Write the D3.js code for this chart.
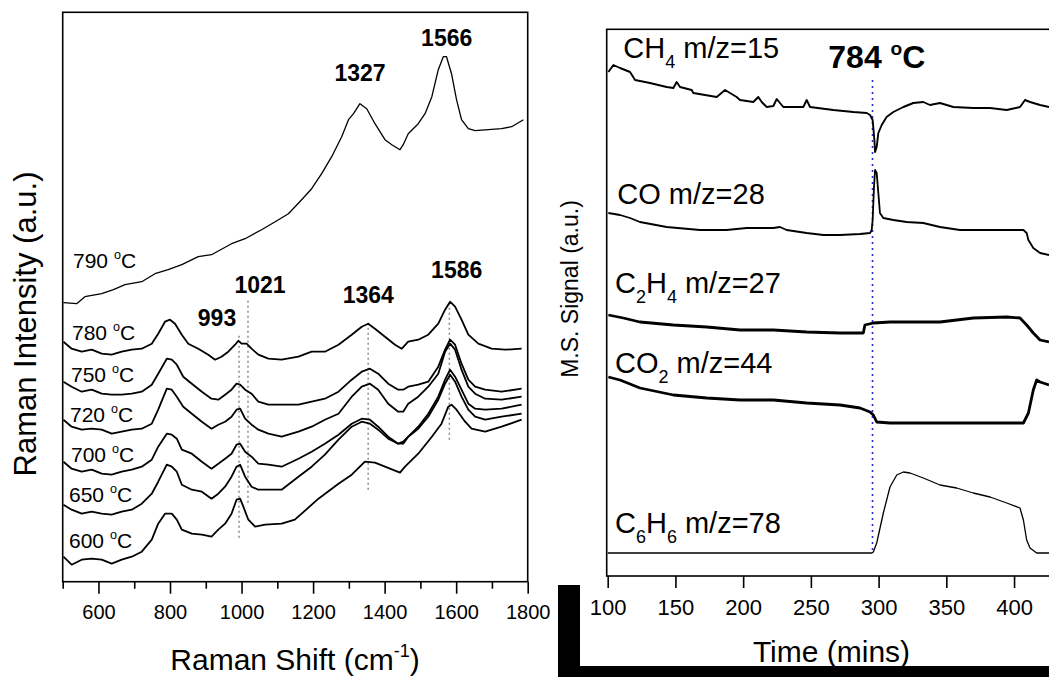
<!DOCTYPE html>
<html><head><meta charset="utf-8">
<script src="https://cdn.jsdelivr.net/npm/d3@7/dist/d3.min.js"></script>
<style>html,body{margin:0;padding:0;background:#fff;overflow:hidden}
text{font-family:"Liberation Sans",Arial,sans-serif;fill:#000}</style>
</head><body><svg id="c" width="1049" height="677"></svg>
<script>
// ---------- Left panel: Raman spectra (x: cm^-1, y: a.u., stacked) ----------
const raman790 = [[502,279],[539,278],[562,285],[609,288],[642,292],[674,297],[721,300],[758,308],[795,312],[833,317],[879,325],[916,327],[972,338],[1010,343],[1056,352],[1094,360],[1131,368],[1168,382],[1196,393],[1224,408],[1252,425],[1280,445],[1299,462],[1313,468],[1331,478],[1350,473],[1373,458],[1401,442],[1420,437],[1443,432],[1452,437],[1466,448],[1494,458],[1513,468],[1532,485],[1550,512],[1564,525],[1573,525],[1587,508],[1601,482],[1615,462],[1634,453],[1653,451],[1690,452],[1727,453],[1755,455],[1774,459],[1788,462]];
const raman780 = [[502,240],[525,233],[553,230],[581,232],[609,228],[637,227],[665,230],[693,232],[721,233],[749,238],[767,248],[786,260],[800,262],[814,258],[833,247],[851,238],[879,233],[907,227],[926,222],[944,225],[963,230],[982,237],[991,241],[1000,238],[1014,238],[1028,233],[1047,227],[1075,223],[1112,222],[1159,225],[1196,230],[1233,230],[1271,237],[1308,247],[1336,255],[1354,258],[1373,253],[1401,245],[1429,237],[1448,233],[1466,240],[1494,242],[1522,247],[1550,258],[1569,272],[1583,280],[1597,275],[1615,262],[1634,247],[1662,238],[1699,233],[1737,232],[1783,233]];
const raman750 = [[502,200],[525,195],[553,190],[581,192],[609,188],[637,187],[665,187],[693,188],[721,190],[749,197],[767,208],[791,223],[805,222],[819,217],[837,205],[861,198],[889,190],[916,183],[935,182],[954,187],[972,192],[986,198],[996,197],[1010,192],[1028,188],[1047,180],[1075,177],[1112,177],[1159,177],[1196,180],[1233,183],[1271,190],[1308,202],[1336,210],[1359,213],[1382,208],[1410,198],[1438,192],[1452,192],[1466,195],[1494,197],[1522,200],[1550,215],[1569,232],[1583,242],[1597,237],[1615,218],[1634,202],[1653,195],[1681,192],[1727,190],[1783,193]];
const raman720 = [[502,162],[525,155],[553,152],[581,153],[609,152],[637,148],[665,150],[693,152],[721,153],[749,158],[767,172],[791,193],[805,192],[819,185],[837,175],[861,168],[889,160],[916,153],[935,157],[954,160],[972,165],[986,172],[996,173],[1010,163],[1028,157],[1047,152],[1075,148],[1112,145],[1159,150],[1196,155],[1233,162],[1271,168],[1308,185],[1336,195],[1359,198],[1382,192],[1410,178],[1438,170],[1452,170],[1466,178],[1494,185],[1522,195],[1550,208],[1569,230],[1583,238],[1597,232],[1615,212],[1634,195],[1653,188],[1681,183],[1727,182],[1783,185]];
const raman700 = [[502,120],[525,113],[553,110],[581,112],[609,108],[637,107],[665,110],[693,112],[721,115],[749,122],[767,135],[791,148],[805,147],[819,143],[833,132],[861,128],[889,120],[916,113],[935,118],[954,123],[972,128],[986,137],[996,138],[1010,130],[1028,125],[1047,118],[1075,117],[1112,115],[1159,123],[1196,130],[1233,138],[1271,147],[1308,158],[1336,163],[1359,162],[1382,155],[1410,145],[1438,138],[1452,140],[1466,145],[1494,155],[1522,168],[1550,185],[1569,202],[1583,212],[1597,205],[1615,192],[1634,178],[1653,173],[1681,172],[1727,173],[1783,177]];
const raman650 = [[502,77],[525,72],[553,68],[581,70],[609,68],[637,67],[665,70],[693,72],[721,78],[749,88],[767,100],[791,117],[805,115],[819,110],[833,97],[861,92],[889,90],[916,83],[935,88],[954,95],[972,105],[986,115],[996,117],[1010,105],[1028,95],[1047,92],[1075,92],[1112,92],[1159,105],[1196,115],[1233,127],[1271,142],[1308,155],[1336,160],[1359,158],[1382,152],[1410,143],[1438,138],[1452,138],[1466,145],[1494,153],[1522,165],[1550,182],[1569,198],[1583,207],[1597,200],[1615,185],[1634,172],[1653,165],[1681,162],[1727,165],[1783,168]];
const raman600 = [[502,25],[525,17],[553,22],[581,23],[609,22],[637,18],[665,22],[693,25],[721,30],[749,42],[767,58],[786,68],[805,68],[819,62],[833,52],[861,48],[889,47],[916,45],[935,52],[954,58],[972,68],[986,82],[996,83],[1005,75],[1019,62],[1038,55],[1066,57],[1112,58],[1149,62],[1215,83],[1271,98],[1308,107],[1345,120],[1373,119],[1401,115],[1443,109],[1457,115],[1494,128],[1532,145],[1559,158],[1578,175],[1587,177],[1601,172],[1625,160],[1643,153],[1681,150],[1727,155],[1783,162]];
const ramanSeries = [raman790, raman780, raman750, raman720, raman700, raman650, raman600];
const ramanTemps = ["790", "780", "750", "720", "700", "650", "600"];
const ramanMajorTicks = [600, 800, 1000, 1200, 1400, 1600, 1800];
const ramanMinorTicks = [500, 700, 900, 1100, 1300, 1500, 1700];
const peakLabels = ["1566", "1327", "1586", "1021", "1364", "993"];
// dotted guide lines: [shift, a.u. from, a.u. to]
const peakGuides = [[993, 44, 249], [1018, 79, 284], [1354, 92, 259], [1581, 142, 280]];

// ---------- Right panel: mass spec signals (x: mins, y: a.u.) ----------
const msCH4 = [[100.5,504],[104.2,511],[109.1,508],[116.5,504],[120.2,496],[131.2,493],[143.5,489],[148.5,488],[150.9,494],[153.4,489],[162,486],[163.2,483],[180.5,479],[186.6,486],[190.3,483],[195.2,479],[197.7,476],[207.5,474],[211.2,479],[213.7,474],[217.4,469],[222.3,470],[224.8,477],[227.2,473],[229.7,469],[244.4,469],[246.9,476],[249.4,469],[266.6,466],[281.4,464],[291.2,463],[293.7,461],[295.6,456],[296.9,436],[297.4,424],[298.6,429],[299.8,443],[302.3,451],[305.9,459],[310.9,464],[318.3,469],[325.6,473],[333,474],[337.9,471],[345.3,473],[355.2,469],[369.9,468],[382.3,468],[394.6,466],[404.4,469],[408.1,476],[411.8,474],[419.2,471],[425.8,469]];
const msCO = [[100.5,363],[109.1,361],[116.5,358],[123.8,354],[143.5,349],[168.1,346],[187.8,346],[202.6,348],[222.3,348],[227.2,349],[232.1,346],[246.9,343],[259.2,341],[271.5,341],[286.3,342],[293.7,343],[294.9,346],[295.6,356],[296.6,389],[297.4,406],[298.6,403],[299.8,383],[301,363],[303.5,358],[310.9,356],[320.7,354],[333,353],[345.3,349],[360.1,346],[369.9,346],[382.3,346],[394.6,346],[406.9,346],[409.3,343],[410.6,336],[414.2,328],[419.2,323],[425.8,321]];
const msC2H4 = [[100.5,261],[111.5,258],[123.8,254],[148.5,251],[173.1,249],[197.7,246],[222.3,246],[246.9,244],[271.5,243],[288.7,243],[289.9,251],[296.1,253],[308.4,254],[320.7,254],[345.3,254],[370,258],[394.6,259],[404.4,258],[409.3,251],[414.2,243],[419.2,236],[425.8,234]];
const msCO2 = [[100.5,199],[109.1,196],[123.8,188],[148.5,181],[173.1,178],[197.7,176],[222.3,176],[246.9,173],[271.5,171],[286.3,168],[293.7,164],[296.1,161],[298.6,154],[308.4,153],[320.7,153],[345.3,153],[370,153],[394.6,153],[406.9,153],[410.6,163],[414.2,186],[416.7,196],[419.2,194],[425.8,191]];
const msC6H6 = [[100,23],[295,23],[296.1,24],[298.6,33],[303.5,63],[308.4,89],[313.4,101],[318.3,104],[323.2,103],[333,98],[345.3,91],[357.6,88],[369.9,83],[382.3,79],[394.6,73],[404.4,68],[406.9,56],[409.3,36],[411.8,28],[416.7,23],[426,23]];
const timeTicks = [100, 150, 200, 250, 300, 350, 400];
const onsetTime = 295.5;           // 784 °C marker
const onsetRange = [26, 496];

// ---------- drawing ----------
const svg = d3.select("#c");
svg.append("rect").attr("width", 1049).attr("height", 677).attr("fill", "#fff");

function rich(g, x, y, parts, size, weight, anchor) {
  const t = g.append("text").attr("x", x).attr("y", y)
    .attr("font-size", size).attr("font-weight", weight || "normal")
    .attr("text-anchor", anchor || "start");
  let cur = 0;
  parts.forEach(([s, kind]) => {
    const ts = t.append("tspan").text(s);
    let off = 0, fs = size;
    if (kind === "sub") { off = size * 0.34; fs = size * 0.62; }
    if (kind === "sup") { off = -size * 0.42; fs = size * 0.6; }
    ts.attr("font-size", fs).attr("dy", off - cur);
    cur = off;
  });
  return t;
}

// ===== Left panel =====
const xL = d3.scaleLinear().domain([500, 1800]).range([62.7, 527.7]);
const yL = d3.scaleLinear().domain([0, 569.4]).range([581.7, 12.3]);
const gL = svg.append("g");
const lineL = d3.line().x(d => xL(d[0])).y(d => yL(d[1]));

gL.selectAll(".guide").data(peakGuides).join("line")
  .attr("x1", d => xL(d[0])).attr("x2", d => xL(d[0]))
  .attr("y1", d => yL(d[1])).attr("y2", d => yL(d[2]))
  .attr("stroke", "#8a8a8a").attr("stroke-width", 1.5).attr("stroke-dasharray", "2,3");

gL.selectAll(".spec").data(ramanSeries).join("path")
  .attr("d", lineL).attr("fill", "none").attr("stroke", "#000")
  .attr("stroke-width", (d, i) => i === 0 ? 1.3 : 1.8).attr("stroke-linejoin", "round");

gL.append("rect").attr("x", xL(500)).attr("y", yL(569.4))
  .attr("width", xL(1800) - xL(500)).attr("height", yL(0) - yL(569.4))
  .attr("fill", "none").attr("stroke", "#000").attr("stroke-width", 1.6);

const axMinor = gL.append("g").attr("transform", `translate(0,${yL(0)})`)
  .call(d3.axisBottom(xL).tickValues(ramanMinorTicks).tickSize(7).tickFormat(""));
const axMajor = gL.append("g").attr("transform", `translate(0,${yL(0)})`)
  .call(d3.axisBottom(xL).tickValues(ramanMajorTicks).tickSize(12).tickFormat(d3.format("d")));
[axMinor, axMajor].forEach(a => {
  a.select(".domain").remove();
  a.selectAll("line").attr("stroke", "#000").attr("stroke-width", 1.6);
});
axMajor.selectAll("text").attr("y", 37.5).attr("dy", 0).attr("font-size", 20)
  .style("font-family", '"Liberation Sans",Arial,sans-serif').attr("fill", "#000");

rich(svg, 295, 670, [["Raman Shift (cm"], ["-1", "sup"], [")"]], 30, "normal", "middle");
svg.append("text").attr("transform", "translate(36,324) rotate(-90)")
  .attr("text-anchor", "middle").attr("font-size", 31).text("Raman Intensity (a.u.)");

const tempPos = [[73, 267.7], [72, 340], [71, 381.7], [70, 421.7], [71, 461.7], [69, 501.7], [69, 548.3]];
ramanTemps.forEach((t, i) => {
  rich(gL, tempPos[i][0], tempPos[i][1], [[t + " "], ["o", "sup"], ["C"]], 21);
});
const peakPos = [[446.7, 46], [360, 81], [456.7, 277.7], [260, 292.7], [368.3, 303.3], [217, 326]];
peakLabels.forEach((p, i) => {
  gL.append("text").attr("x", peakPos[i][0]).attr("y", peakPos[i][1])
    .attr("text-anchor", "middle").attr("font-size", 23).attr("font-weight", "bold").text(p);
});

// ===== Right panel =====
const xR = d3.scaleLinear().domain([100, 500]).range([607.7, 1149.5]);
const yR = d3.scaleLinear().domain([0, 546.7]).range([576, 29.3]);
const gR = svg.append("g");
const lineR = d3.line().x(d => xR(d[0])).y(d => yR(d[1]));

gR.append("line").attr("x1", xR(onsetTime)).attr("x2", xR(onsetTime))
  .attr("y1", yR(onsetRange[0])).attr("y2", yR(onsetRange[1]))
  .attr("stroke", "#2a2ad0").attr("stroke-width", 1.6).attr("stroke-dasharray", "2,4");

const msSeries = [
  {d: msCH4, w: 1.9}, {d: msCO, w: 1.8}, {d: msC2H4, w: 2.8},
  {d: msCO2, w: 2.8}, {d: msC6H6, w: 1.3}
];
gR.selectAll(".ms").data(msSeries).join("path")
  .attr("d", s => lineR(s.d)).attr("fill", "none").attr("stroke", "#000")
  .attr("stroke-width", s => s.w).attr("stroke-linejoin", "round");

gR.append("rect").attr("x", 606.7).attr("y", yR(546.7))
  .attr("width", 600).attr("height", yR(0) - yR(546.7))
  .attr("fill", "none").attr("stroke", "#000").attr("stroke-width", 1.6);

const axR = gR.append("g").attr("transform", `translate(0,${yR(0)})`)
  .call(d3.axisBottom(xR).tickValues(timeTicks).tickSize(12).tickFormat(d3.format("d")));
axR.select(".domain").remove();
axR.selectAll("line").attr("stroke", "#000").attr("stroke-width", 1.6);
axR.selectAll("text").attr("y", 39).attr("dy", 0).attr("font-size", 22)
  .style("font-family", '"Liberation Sans",Arial,sans-serif').attr("fill", "#000");

svg.append("text").attr("x", 831.5).attr("y", 662).attr("text-anchor", "middle")
  .attr("font-size", 30).text("Time (mins)");
svg.append("text").attr("transform", "translate(578,289) rotate(-90)")
  .attr("text-anchor", "middle").attr("font-size", 23).text("M.S. Signal (a.u.)");

rich(gR, 623.3, 58.3, [["CH"], ["4", "sub"], [" m/z=15"]], 29);
rich(gR, 828.3, 68.3, [["784 "], ["o", "sup"], ["C"]], 32, "bold");
rich(gR, 617.3, 204, [["CO m/z=28"]], 29);
rich(gR, 615, 293.3, [["C"], ["2", "sub"], ["H"], ["4", "sub"], [" m/z=27"]], 29);
rich(gR, 615, 372.7, [["CO"], ["2", "sub"], [" m/z=44"]], 29);
rich(gR, 615, 532.7, [["C"], ["6", "sub"], ["H"], ["6", "sub"], [" m/z=78"]], 29);

svg.append("rect").attr("x", 558).attr("y", 585).attr("width", 22).attr("height", 92).attr("fill", "#000");
svg.append("rect").attr("x", 558).attr("y", 666).attr("width", 491).attr("height", 11).attr("fill", "#000");
</script></body></html>
